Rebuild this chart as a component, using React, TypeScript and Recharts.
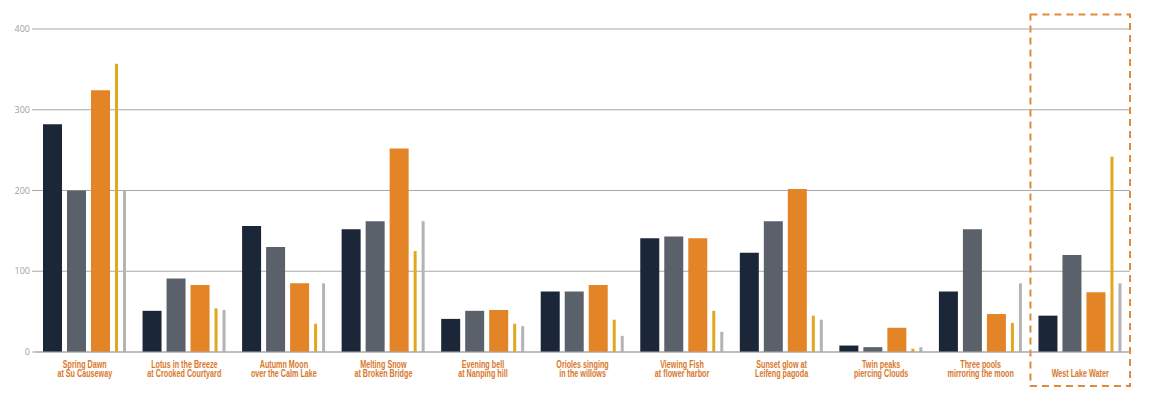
import { BarChart, Bar, XAxis, YAxis, CartesianGrid, ReferenceArea } from "recharts";

const categories = [
  "Spring Dawn at Su Causeway",
  "Lotus in the Breeze at Crooked Courtyard",
  "Autumn Moon over the Calm Lake",
  "Melting Snow at Broken Bridge",
  "Evening bell at Nanping hill",
  "Orioles singing in the willows",
  "Viewing Fish at flower harbor",
  "Sunset glow at Leifeng pagoda",
  "Twin peaks piercing Clouds",
  "Three pools mirroring the moon",
  "West Lake Water",
];

const labelLines = [
  ["Spring Dawn", "at Su Causeway"],
  ["Lotus in the Breeze", "at Crooked Courtyard"],
  ["Autumn Moon", "over the Calm Lake"],
  ["Melting Snow", "at Broken Bridge"],
  ["Evening bell", "at Nanping hill"],
  ["Orioles singing", "in the willows"],
  ["Viewing Fish", "at flower harbor"],
  ["Sunset glow at", "Leifeng pagoda"],
  ["Twin peaks", "piercing Clouds"],
  ["Three pools", "mirroring the moon"],
  ["", "West Lake Water"],
];

const navyValues = [282, 51, 156, 152, 41, 75, 141, 123, 8, 75, 45];
const slateValues = [200, 91, 130, 162, 51, 75, 143, 162, 6, 152, 120];
const orangeValues = [324, 83, 85, 252, 52, 83, 141, 202, 30, 47, 74];
const goldValues = [357, 54, 35, 125, 35, 40, 51, 45, 4, 36, 242];
const silverValues = [200, 52, 85, 162, 32, 20, 25, 40, 6, 85, 85];

const yTicks = [0, 100, 200, 300, 400];

const data = categories.map((name, i) => ({
  name,
  navy: navyValues[i],
  slate: slateValues[i],
  orange: orangeValues[i],
  gold: goldValues[i],
  silver: silverValues[i],
}));

const highlighted = "West Lake Water";

// condensed label: the narrow face isn't available, so squeeze horizontally
function CategoryTick(props: any) {
  const { x, y, payload } = props;
  const idx = categories.indexOf(payload.value);
  const lines = labelLines[idx] || ["", payload.value];
  return (
    <g transform={`translate(${x},${y}) scale(0.72,1)`}>
      <text
        x={0}
        y={0}
        textAnchor="middle"
        fill="#d9772a"
        fontSize={10}
        fontWeight={700}
        fontFamily="'Liberation Sans', Arial, sans-serif"
      >
        {lines[0] && (
          <tspan x={0} dy={7.5}>
            {lines[0]}
          </tspan>
        )}
        <tspan x={0} dy={lines[0] ? 9.5 : 17}>
          {lines[1]}
        </tspan>
      </text>
    </g>
  );
}

export default function App() {
  return (
    <div style={{ position: "fixed", left: 0, top: 0, background: "#fff" }}>
      <BarChart
        width={1152}
        height={393}
        data={data}
        margin={{ top: 29, right: 22, bottom: 0, left: 0 }}
        barGap={5}
      >
        <CartesianGrid vertical={false} stroke="#a9a9a9" strokeWidth={1} />
        <XAxis
          dataKey="name"
          height={41}
          interval={0}
          axisLine={{ stroke: "#a9a9a9" }}
          tickLine={false}
          tickMargin={2}
          tick={<CategoryTick />}
        />
        <YAxis
          width={35}
          domain={[0, 400]}
          ticks={yTicks}
          axisLine={false}
          tickSize={3}
          tickLine={{ stroke: "#a9a9a9" }}
          tick={{ fill: "#a0a0a0", fontSize: 9, fontFamily: "'Open Sans', sans-serif" }}
        />
        <ReferenceArea
          x1={highlighted}
          x2={highlighted}
          y1={-42}
          y2={418}
          ifOverflow="visible"
          fill="none"
          stroke="#e08a3c"
          strokeWidth={2}
          strokeDasharray="7 5"
        />
        <Bar dataKey="navy" fill="#1c2639" barSize={19} isAnimationActive={false} />
        <Bar dataKey="slate" fill="#5b616b" barSize={19} isAnimationActive={false} />
        <Bar dataKey="orange" fill="#e38426" barSize={19} isAnimationActive={false} />
        <Bar dataKey="gold" fill="#e2a71e" barSize={3} isAnimationActive={false} />
        <Bar dataKey="silver" fill="#b3b3b3" barSize={3} isAnimationActive={false} />
      </BarChart>
    </div>
  );
}
